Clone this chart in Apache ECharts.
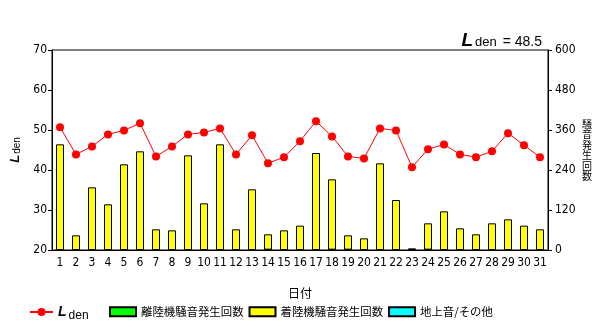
<!DOCTYPE html>
<html><head><meta charset="utf-8">
<script src="https://cdn.jsdelivr.net/npm/echarts@6/dist/echarts.min.js"></script>
<style>html,body{margin:0;padding:0;background:#fff}#c{width:600px;height:329px}</style>
</head><body><div id="c"></div>
<script>
const days = ['1','2','3','4','5','6','7','8','9','10','11','12','13','14','15','16','17','18','19','20','21','22','23','24','25','26','27','28','29','30','31'];
const lden = [50.7,43.9,45.9,48.9,49.9,51.7,43.4,45.9,48.9,49.4,50.4,43.9,48.7,41.7,43.2,47.2,52.2,48.4,43.4,42.9,50.4,49.9,40.7,45.2,46.4,43.9,43.2,44.7,49.2,46.2,43.2];
const takeoff = [0,0,0,0,0,0,0,0,0,0,0,0,0,1,0,0,0,1,1,0,0,0,5,1,0,0,0,0,0,0,0];
const landing = [317,44,188,137,257,296,62,59,284,140,317,62,182,46,59,73,291,211,43,35,260,150,0,79,116,65,47,80,92,73,62];
const ground = [0,0,0,0,0,0,0,0,0,0,0,0,0,0,0,0,0,0,0,0,0,0,0,0,0,0,0,0,0,0,0];
const leftTicks = {min:20,max:70,interval:10};
const rightTicks = {min:0,max:600,interval:120};
const ldenTotal = '48.5';

const numFont = "'DejaVu Sans Condensed','Liberation Sans Narrow',sans-serif";
const jpFont = "'Noto Sans CJK JP',sans-serif";
const nz = a => a.map(v => v === 0 ? '-' : v);
const chart = echarts.init(document.getElementById('c'));
const ldenRich = {
  L:{fontStyle:'italic',fontWeight:'bold',fontSize:14,fontFamily:'Liberation Sans',color:'#000'},
  d:{fontSize:12,fontWeight:'normal',fontFamily:'Liberation Sans',color:'#000',padding:[7,0,0,2]}
};
chart.setOption({
  animation:false,
  backgroundColor:'#fff',
  title:{
    text:'{L|L}{d|den}{e| = '+ldenTotal+'}',
    right:53, top:26,
    textStyle:{fontWeight:'normal',rich:{
      L:{fontStyle:'italic',fontWeight:'bold',fontSize:19,fontFamily:'Liberation Sans',color:'#000'},
      d:{fontSize:13,fontWeight:'normal',fontFamily:'Liberation Sans',color:'#000',padding:[4,0,0,2]},
      e:{fontSize:14,fontWeight:'normal',fontFamily:'Liberation Sans',color:'#000',padding:[4,0,0,2]}
    }}
  },
  grid:{left:52,right:52,top:50,bottom:79,show:true,borderColor:'#000',borderWidth:1,backgroundColor:'transparent'},
  legend:[
    {data:['Lden'],left:24,top:300,itemWidth:23,itemHeight:10,
     formatter:()=> '{L|L}{d|den}', textStyle:{fontWeight:'normal',rich:ldenRich}},
    {data:['離陸機騒音発生回数','着陸機騒音発生回数','地上音/その他'],left:104,top:301,itemWidth:26,itemHeight:9,itemGap:5,
     icon:'rect', textStyle:{fontFamily:jpFont,fontSize:11.4,color:'#000'}}
  ],
  xAxis:{
    type:'category',data:days,
    name:'日付',nameLocation:'middle',nameGap:37,
    nameTextStyle:{fontFamily:jpFont,fontSize:12,color:'#000'},
    axisLine:{lineStyle:{color:'#000',width:1}},
    axisTick:{alignWithLabel:true,length:3,lineStyle:{color:'#000'}},
    axisLabel:{color:'#000',fontFamily:numFont,fontSize:12,margin:7,interval:0}
  },
  yAxis:[
    {type:'value',min:leftTicks.min,max:leftTicks.max,interval:leftTicks.interval,
     name:'{L|L}{d|den}',nameLocation:'middle',nameGap:23,nameRotate:90,
     nameTextStyle:{fontWeight:'normal',rich:{
       L:{fontStyle:'italic',fontWeight:'bold',fontSize:13,fontFamily:'Liberation Sans',color:'#000'},
       d:{fontSize:10,fontWeight:'normal',fontFamily:'Liberation Sans',color:'#000',padding:[4,0,0,1]}}},
     axisLine:{show:true,lineStyle:{color:'#000'}},
     axisTick:{show:true,length:4,lineStyle:{color:'#000'}},
     splitLine:{show:false},
     axisLabel:{color:'#000',fontFamily:numFont,fontSize:12,margin:5}},
    {type:'value',min:rightTicks.min,max:rightTicks.max,interval:rightTicks.interval,position:'right',
     name:'騒\n音\n発\n生\n回\n数',nameLocation:'middle',nameGap:34,nameRotate:0,
     nameTextStyle:{fontFamily:jpFont,fontSize:10,lineHeight:10.5,color:'#000',align:'left'},
     axisLine:{show:true,lineStyle:{color:'#000'}},
     axisTick:{show:true,length:4,lineStyle:{color:'#000'}},
     splitLine:{show:false},
     axisLabel:{color:'#000',fontFamily:numFont,fontSize:12,margin:7}}
  ],
  series:[
    {name:'離陸機騒音発生回数',type:'bar',yAxisIndex:1,stack:'n',data:nz(takeoff),barWidth:8,
     itemStyle:{color:'#00ff00',borderColor:'#000',borderWidth:1}},
    {name:'着陸機騒音発生回数',type:'bar',yAxisIndex:1,stack:'n',data:nz(landing),barWidth:8,
     itemStyle:{color:'#ffff00',borderColor:'#000',borderWidth:1}},
    {name:'地上音/その他',type:'bar',yAxisIndex:1,stack:'n',data:nz(ground),barWidth:8,
     itemStyle:{color:'#00ffff',borderColor:'#000',borderWidth:1}},
    {name:'Lden',type:'line',yAxisIndex:0,data:lden,symbol:'circle',symbolSize:8,
     lineStyle:{color:'#ff0000',width:1},itemStyle:{color:'#ff0000'},z:5}
  ]
});
</script></body></html>
